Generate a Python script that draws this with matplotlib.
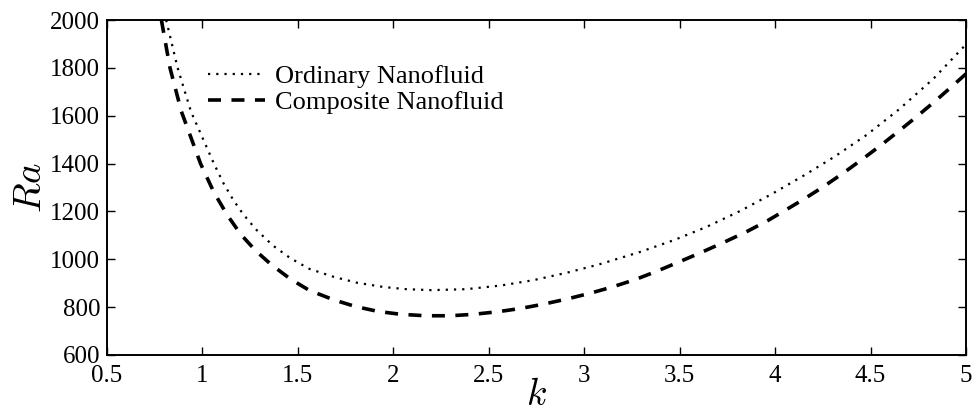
import matplotlib
matplotlib.use("Agg")
import matplotlib.pyplot as plt

# values
k_ordinary = [0.81, 0.87, 0.94, 1.06, 1.11, 1.16, 1.21, 1.28, 1.37, 1.46, 1.56, 1.69,
              1.81, 1.95, 2.07, 2.20, 2.38, 2.56, 2.73, 2.91, 3.08, 3.29, 3.47, 3.64,
              3.82, 3.99, 4.15, 4.31, 4.48, 4.65, 4.83, 5.0]
ra_ordinary = [2000, 1800, 1617, 1400, 1318, 1250, 1192, 1125, 1057, 1005, 960, 926,
               902, 884, 875, 871, 875, 890, 912, 944, 979, 1030, 1080, 1135,
               1203, 1276, 1350, 1428, 1520, 1627, 1755, 1898]

k_composite = [0.785, 0.83, 0.89, 0.99, 1.06, 1.13, 1.20, 1.28, 1.36, 1.46, 1.56, 1.69,
               1.80, 1.92, 2.04, 2.17, 2.30, 2.42, 2.55, 2.67, 2.79, 2.92, 3.04, 3.15,
               3.27, 3.38, 3.50, 3.62, 3.74, 3.85, 3.96, 4.06, 4.16, 4.26, 4.36, 4.46,
               4.55, 4.65, 4.74, 4.84, 4.93, 5.0]
ra_composite = [2000, 1800, 1617, 1400, 1280, 1185, 1105, 1035, 978, 918, 870, 830,
                803, 782, 770, 764, 764, 770, 781, 795, 813, 836, 860, 885,
                916, 950, 990, 1031, 1074, 1115, 1161, 1208, 1256, 1307, 1362, 1420,
                1474, 1537, 1595, 1662, 1725, 1775]

labels = ["Ordinary Nanofluid", "Composite Nanofluid"]

plt.rcParams["font.family"] = ["Liberation Serif", "DejaVu Serif"]
plt.rcParams["mathtext.fontset"] = "cm"

fig = plt.figure(figsize=(9.78, 4.17), dpi=100)
ax = fig.add_axes([0.1094, 0.1487, 0.8783, 0.8033])

ax.plot(k_ordinary, ra_ordinary, color="k", lw=1.6, linestyle=(0, (1.0, 2.7)),
        label=labels[0])
ax.plot(k_composite, ra_composite, color="k", lw=2.6, linestyle=(0, (3.6, 2.9)),
        label=labels[1])

ax.set_xlim(0.5, 5)
ax.set_ylim(600, 2000)
ax.set_xticks([0.5, 1, 1.5, 2, 2.5, 3, 3.5, 4, 4.5, 5])
ax.set_xticklabels(["0.5", "1", "1.5", "2", "2.5", "3", "3.5", "4", "4.5", "5"])
ax.set_yticks(range(600, 2001, 200))
ax.tick_params(direction="in", top=True, right=True, length=6, width=1,
               labelsize=18)
ax.tick_params(axis="x", pad=7)
ax.tick_params(axis="y", pad=5)
for s in ax.spines.values():
    s.set_linewidth(1.4)

ax.set_xlabel("$k$", fontsize=27, labelpad=-6)
ax.set_ylabel("$Ra$", fontsize=28, labelpad=0)

ax.legend(loc="upper left", bbox_to_anchor=(0.105, 0.898), frameon=False,
          fontsize=19, handlelength=2.16, handletextpad=0.38, labelspacing=0.1,
          borderaxespad=0)

fig.savefig("out.png", dpi=100)
